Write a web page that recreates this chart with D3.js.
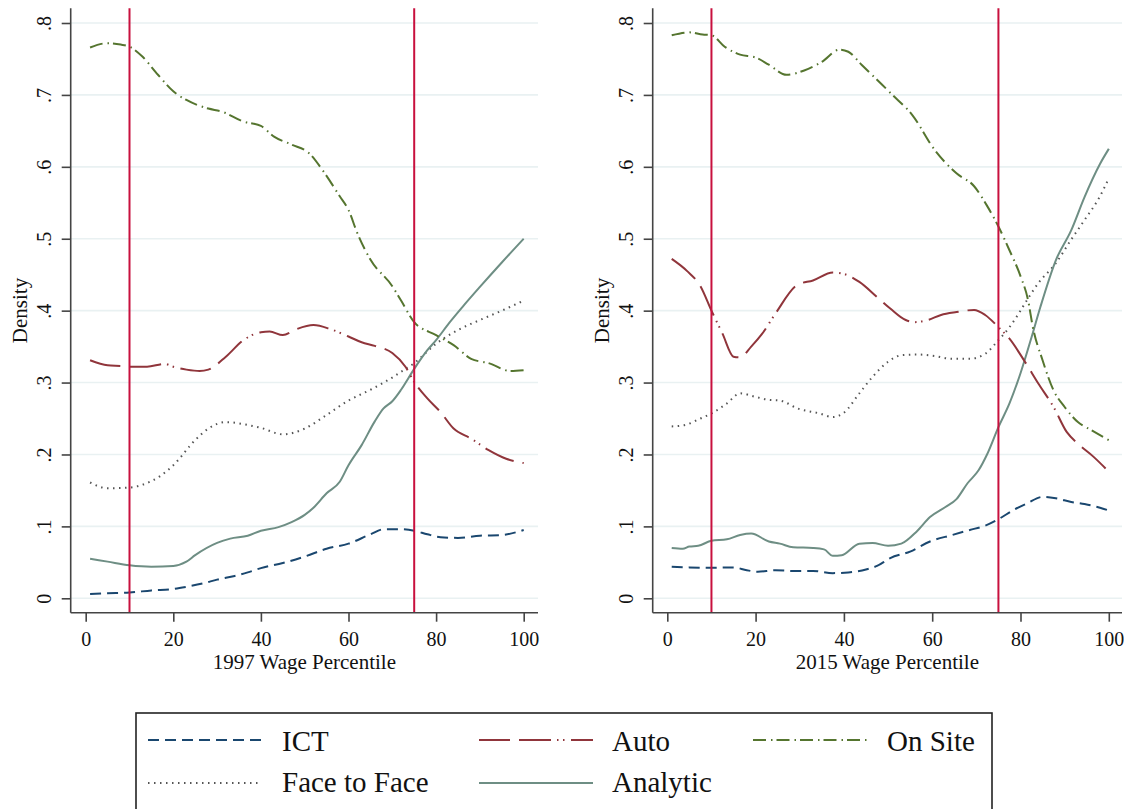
<!DOCTYPE html>
<html>
<head>
<meta charset="utf-8">
<script src="https://cdn.jsdelivr.net/npm/d3@7"></script>
<style>
  html, body { margin: 0; padding: 0; background: #fff; }
  svg { display: block; }
  svg text { font-family: 'Liberation Serif', 'Tinos', 'Times New Roman', 'DejaVu Serif', serif; }
</style>
</head>
<body>
<svg id="chart" width="1124" height="809"></svg>
<script>
// ---- Data (percentile, density) ----
const xTicks = [0, 20, 40, 60, 80, 100];
const yTicks = [0, 0.1, 0.2, 0.3, 0.4, 0.5, 0.6, 0.7, 0.8];
const yTickLabels = ["0", ".1", ".2", ".3", ".4", ".5", ".6", ".7", ".8"];
const refLines = [10, 75];
const seriesNames = ["ICT", "Auto", "On Site", "Face to Face", "Analytic"];
const panelTitles = ["1997 Wage Percentile", "2015 Wage Percentile"];

const ict1997 = [[1,0.006],[5,0.007],[10,0.008],[15,0.011],[20,0.013],[23,0.016],[27,0.021],[30,0.026],[34,0.031],[37,0.036],[40,0.042],[45,0.049],[50,0.058],[55,0.069],[60,0.076],[65,0.089],[68,0.096],[72,0.096],[75,0.094],[78,0.089],[81,0.085],[85,0.084],[90,0.087],[95,0.088],[100,0.095]];
const auto1997 = [[1,0.331],[5,0.324],[8,0.323],[10,0.322],[14,0.322],[18,0.326],[20,0.322],[23,0.318],[26,0.316],[28,0.318],[32,0.336],[36,0.359],[40,0.370],[42,0.371],[45,0.366],[48,0.374],[52,0.380],[56,0.374],[60,0.364],[63,0.356],[66,0.351],[70,0.341],[73,0.322],[75,0.301],[78,0.278],[81,0.259],[84,0.236],[88,0.222],[92,0.206],[96,0.194],[100,0.188]];
const onsite1997 = [[1,0.766],[5,0.772],[8,0.770],[10,0.767],[13,0.753],[16.5,0.728],[20,0.705],[23,0.693],[28,0.681],[31,0.677],[36,0.663],[40,0.657],[43,0.642],[47,0.631],[51,0.619],[54,0.596],[58,0.559],[60,0.540],[62,0.508],[65,0.471],[70,0.434],[72,0.414],[75,0.384],[80,0.366],[84,0.352],[88,0.333],[92,0.327],[97,0.316],[100,0.317]];
const face1997 = [[1,0.161],[5,0.153],[10,0.154],[13,0.158],[17,0.170],[20,0.185],[25,0.220],[28,0.236],[32,0.245],[37,0.241],[40,0.237],[45,0.228],[50,0.236],[55,0.255],[60,0.275],[65,0.290],[70,0.307],[72,0.315],[75,0.327],[80,0.354],[85,0.373],[90,0.387],[95,0.400],[100,0.414]];
const analytic1997 = [[1,0.055],[5,0.051],[10,0.046],[15,0.044],[20,0.045],[23,0.051],[25,0.060],[30,0.077],[33,0.083],[37,0.087],[40,0.094],[44,0.099],[47,0.106],[50,0.116],[52,0.126],[55,0.146],[58,0.162],[60,0.185],[63,0.213],[66,0.246],[68,0.264],[70,0.274],[72,0.290],[75,0.319],[78,0.345],[80,0.359],[83,0.383],[86,0.405],[90,0.433],[95,0.467],[100,0.500]];

const ict2015 = [[1,0.044],[5,0.043],[10,0.0425],[15,0.043],[18,0.039],[20.5,0.037],[24.5,0.039],[28.5,0.038],[33,0.038],[37.5,0.035],[41,0.036],[45,0.040],[47.5,0.045],[50.5,0.056],[55,0.065],[59.5,0.079],[64.5,0.088],[68.5,0.095],[72,0.101],[75,0.110],[78.5,0.123],[81.5,0.132],[85,0.141],[88,0.139],[91.5,0.134],[94.5,0.131],[98,0.126],[100,0.122]];
const auto2015 = [[1,0.472],[4.5,0.455],[7.5,0.434],[10,0.400],[12.5,0.368],[15,0.336],[16.5,0.335],[19,0.350],[21.5,0.368],[24.5,0.396],[29.5,0.436],[33,0.442],[37.5,0.453],[40,0.451],[43.5,0.440],[47.5,0.419],[50.5,0.403],[54,0.387],[56,0.384],[59,0.387],[62,0.394],[65.5,0.398],[69.5,0.401],[72,0.394],[75,0.377],[77.5,0.361],[81,0.329],[84,0.299],[87.5,0.266],[90.5,0.231],[93,0.215],[96.5,0.197],[100,0.176]];
const onsite2015 = [[1,0.783],[5,0.787],[8,0.784],[10,0.783],[13,0.767],[16.5,0.756],[20,0.752],[23,0.742],[27,0.728],[31,0.734],[35,0.746],[39,0.763],[41,0.760],[44,0.742],[47.5,0.721],[51,0.700],[55.5,0.672],[60.5,0.624],[65.5,0.591],[69.5,0.573],[72.5,0.545],[75,0.517],[77.5,0.484],[80,0.448],[81.7,0.415],[82.8,0.377],[85,0.331],[87.5,0.289],[90,0.266],[93,0.245],[96,0.234],[100,0.220]];
const face2015 = [[1,0.239],[4,0.241],[7.5,0.250],[10,0.257],[13.5,0.271],[16.5,0.285],[20,0.280],[23,0.276],[25.5,0.275],[29.5,0.264],[34.5,0.257],[37.5,0.252],[40,0.258],[43.5,0.285],[46.5,0.308],[50,0.329],[53,0.338],[56.5,0.339],[60.5,0.337],[64.5,0.333],[68.5,0.333],[72,0.340],[75,0.359],[77.5,0.377],[80,0.400],[81,0.410],[84,0.438],[88,0.466],[91.5,0.499],[94.5,0.526],[98,0.559],[100,0.584]];
const analytic2015 = [[1,0.070],[3.5,0.069],[5,0.072],[7,0.073],[10,0.080],[13.5,0.082],[16.5,0.088],[19,0.090],[23,0.079],[25.5,0.076],[28.5,0.071],[33,0.070],[35.5,0.068],[37.5,0.059],[39.5,0.060],[43.5,0.076],[46.5,0.077],[50,0.073],[53,0.076],[56.5,0.093],[59.5,0.113],[63,0.127],[65.5,0.138],[68,0.160],[70.5,0.178],[72.5,0.201],[75,0.238],[77.5,0.271],[80,0.313],[82.5,0.363],[84.5,0.405],[88,0.470],[91.5,0.512],[94.5,0.558],[98,0.604],[100,0.625]];

// ---- Styles ----
const styles = {
  "ICT":          { color: "#1a476f", dash: "11,6" },
  "Auto":         { color: "#90353b", dash: "31,9,32,6,1.5,4.5,1.5,6.5" },
  "On Site":      { color: "#55752f", dash: "13,5,1.5,4" },
  "Face to Face": { color: "#555555", dash: "1.5,4.5" },
  "Analytic":     { color: "#6e8e84", dash: null }
};

const panels = [
  { title: panelTitles[0], axisX: 70.7, right: 538, x0: 85.7, x1: 523.7, yLabX: 51.5, densX: 26.5,
    series: { "ICT": ict1997, "Auto": auto1997, "On Site": onsite1997, "Face to Face": face1997, "Analytic": analytic1997 } },
  { title: panelTitles[1], axisX: 652.7, right: 1122, x0: 667.3, x1: 1108.8, yLabX: 633.3, densX: 608.5,
    series: { "ICT": ict2015, "Auto": auto2015, "On Site": onsite2015, "Face to Face": face2015, "Analytic": analytic2015 } }
];

const svg = d3.select("#chart");
const plotTop = 8.3, plotBottom = 612.7;
const y = d3.scaleLinear().domain([0, 0.8]).range([598.3, 23]);
const drawOrder = ["Face to Face", "Analytic", "On Site", "Auto", "ICT"];

panels.forEach(p => {
  const x = d3.scaleLinear().domain([0, 100]).range([p.x0, p.x1]);
  const g = svg.append("g");

  // grid
  g.selectAll(".grid").data(yTicks).join("line")
    .attr("x1", p.axisX).attr("x2", p.right)
    .attr("y1", d => y(d)).attr("y2", d => y(d))
    .attr("stroke", "#e9f1f2").attr("stroke-width", 1.6);

  // series
  const line = d3.line().x(d => x(d[0])).y(d => y(d[1])).curve(d3.curveMonotoneX);
  drawOrder.forEach(name => {
    const s = styles[name];
    g.append("path").datum(p.series[name])
      .attr("d", line).attr("fill", "none")
      .attr("stroke", s.color).attr("stroke-width", 2)
      .attr("stroke-dasharray", s.dash);
  });

  // reference lines
  g.selectAll(".ref").data(refLines).join("line")
    .attr("x1", d => x(d)).attr("x2", d => x(d))
    .attr("y1", plotTop).attr("y2", plotBottom)
    .attr("stroke", "#c8103e").attr("stroke-width", 2);

  // y axis
  const yAxis = d3.axisLeft(y).tickValues(yTicks).tickFormat((d, i) => yTickLabels[i]).tickSize(9).tickSizeOuter(0);
  const ya = g.append("g").attr("transform", `translate(${p.axisX},0)`).call(yAxis);
  ya.attr("font-family", null);
  ya.select(".domain").attr("d", `M0,${plotTop}V${plotBottom}`).attr("stroke", "#444").attr("stroke-width", 1.6);
  ya.selectAll(".tick line").attr("stroke", "#444").attr("stroke-width", 1.6);
  ya.selectAll(".tick text")
    .attr("font-size", 20).attr("fill", "#111")
    .attr("x", null).attr("dy", null)
    .attr("transform", `translate(${p.yLabX - p.axisX},0) rotate(-90)`)
    .attr("text-anchor", "middle");

  // x axis
  const xAxis = d3.axisBottom(x).tickValues(xTicks).tickFormat(d3.format("d")).tickSize(9).tickSizeOuter(0);
  const xa = g.append("g").attr("transform", `translate(0,${plotBottom})`).call(xAxis);
  xa.attr("font-family", null);
  xa.select(".domain").attr("d", `M${p.axisX},0H${p.right}`).attr("stroke", "#444").attr("stroke-width", 1.6);
  xa.selectAll(".tick line").attr("stroke", "#444").attr("stroke-width", 1.6);
  xa.selectAll(".tick text")
    .attr("font-size", 20).attr("fill", "#111")
    .attr("y", 33).attr("dy", null);

  // titles
  g.append("text").attr("x", (p.axisX + p.right) / 2).attr("y", 669)
    .attr("text-anchor", "middle").attr("font-size", 21).attr("fill", "#111").text(p.title);
  g.append("text").attr("transform", `translate(${p.densX},${(plotTop + plotBottom) / 2}) rotate(-90)`)
    .attr("text-anchor", "middle").attr("font-size", 21).attr("fill", "#111").text("Density");
});

// ---- Legend ----
const legend = svg.append("g");
legend.append("rect").attr("x", 136).attr("y", 713).attr("width", 856).attr("height", 130)
  .attr("fill", "none").attr("stroke", "#222").attr("stroke-width", 1.6);
const legendPos = {
  "ICT":          { lx: 148, tx: 282, ly: 740, ty: 751 },
  "Auto":         { lx: 479, tx: 612, ly: 740, ty: 751 },
  "On Site":      { lx: 753, tx: 887, ly: 740, ty: 751 },
  "Face to Face": { lx: 148, tx: 282, ly: 783, ty: 792 },
  "Analytic":     { lx: 479, tx: 612, ly: 783, ty: 792 }
};
seriesNames.forEach(name => {
  const s = styles[name], pos = legendPos[name];
  legend.append("line").attr("x1", pos.lx).attr("x2", pos.lx + 114)
    .attr("y1", pos.ly).attr("y2", pos.ly)
    .attr("stroke", s.color).attr("stroke-width", 2).attr("stroke-dasharray", s.dash);
  legend.append("text").attr("x", pos.tx).attr("y", pos.ty)
    .attr("font-size", 29).attr("fill", "#111").text(name);
});
</script>
</body>
</html>
